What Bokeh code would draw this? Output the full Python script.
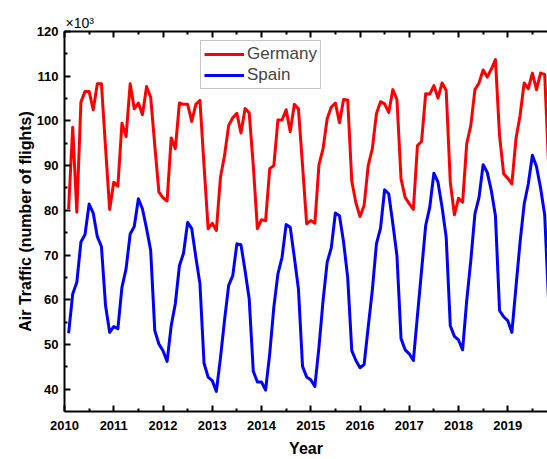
from bokeh.plotting import figure
from bokeh.models import Range1d, LinearAxis, FixedTicker, Legend, LegendItem
from bokeh.embed import file_html
from bokeh.resources import INLINE

# ---- data (monthly air traffic, thousands of flights) ----
months = list(range(1, 119))  # month counter starting Jan 2010
germany = [80.3, 98.6, 79.6, 104.2, 106.6, 106.6, 102.5, 108.3, 108.3, 94.0,
           80.2, 86.3, 85.4, 99.5, 96.5, 108.3, 102.7, 104.0, 101.4, 107.7,
           105.3, 94.5, 84.1, 82.8, 82.1, 96.2, 93.8, 104.0, 103.7, 103.7,
           99.9, 103.7, 104.6, 90.0, 75.9, 77.1, 75.5, 87.4, 92.3, 99.0,
           100.7, 101.7, 97.3, 102.8, 101.8, 90.0, 75.9, 77.9, 77.7, 89.3,
           90.0, 100.2, 100.2, 102.5, 97.6, 103.7, 102.7, 90.0, 77.0, 77.7,
           77.1, 90.2, 93.8, 100.5, 103.1, 104.0, 99.6, 104.8, 104.7, 86.5,
           81.7, 78.6, 81.1, 90.0, 93.8, 101.6, 104.3, 103.8, 101.9, 107.0,
           104.8, 87.0, 82.9, 81.5, 80.2, 94.5, 95.4, 106.1, 106.0, 107.9,
           105.1, 108.5, 106.8, 86.3, 79.0, 82.7, 81.8, 94.9, 99.0, 107.0,
           108.5, 111.4, 109.8, 111.6, 113.7, 96.7, 88.2, 87.2, 85.9, 96.0,
           101.2, 108.5, 107.2, 110.7, 107.0, 110.7, 110.4, 89.0]
spain = [52.5, 61.3, 63.9, 72.9, 74.6, 81.4, 79.4, 74.1, 71.9, 58.7,
         52.7, 54.0, 53.5, 62.8, 66.9, 74.7, 76.4, 82.6, 80.3, 75.9,
         71.0, 53.1, 50.1, 48.6, 46.2, 54.2, 59.1, 67.6, 70.4, 77.3,
         75.9, 69.5, 63.6, 45.8, 42.7, 41.9, 39.5, 47.0, 55.5, 63.2,
         65.4, 72.5, 72.3, 66.5, 60.2, 44.0, 41.6, 41.6, 39.8, 47.9,
         58.3, 65.8, 69.5, 76.8, 76.2, 69.5, 62.4, 45.1, 42.7, 42.1,
         40.6, 49.4, 59.8, 68.4, 71.6, 79.4, 78.8, 72.9, 65.0, 48.6,
         46.4, 44.8, 45.5, 53.9, 62.1, 72.5, 76.0, 84.6, 83.7, 77.0,
         69.9, 51.3, 48.8, 47.9, 46.4, 56.5, 66.5, 76.6, 80.7, 88.3,
         86.3, 80.7, 74.0, 54.2, 51.8, 51.0, 48.8, 59.8, 68.8, 79.2,
         82.9, 90.2, 88.5, 84.4, 78.8, 57.6, 56.2, 55.3, 52.7, 62.8,
         72.9, 81.4, 85.9, 92.3, 89.8, 85.0, 79.0, 58.5]
year_ticks = [2010, 2011, 2012, 2013, 2014, 2015, 2016, 2017, 2018, 2019]
y_ticks = [40, 50, 60, 70, 80, 90, 100, 110, 120]

x = [2010 + m / 12 for m in months]

FONT = "Liberation Sans"

p = figure(width=547, height=459,
           x_range=Range1d(2010, 2019.807), y_range=Range1d(35, 120),
           output_backend="svg", toolbar_location=None,
           min_border_left=64, min_border_right=0, min_border_top=31,
           min_border_bottom=47)
p.outline_line_color = None
p.grid.visible = False
p.border_fill_color = "white"
p.background_fill_color = "white"

# "×10³" multiplier shown above the top-left corner
p.title.text = "×10³"
p.title.align = "left"
p.title.text_font = FONT
p.title.text_font_style = "normal"
p.title.text_font_size = "14px"
p.title.text_color = "black"
p.title.standoff = 2
p.title.offset = 1

r1 = p.line(x, germany, line_color="#FF0000", line_width=3, line_join="round")
r2 = p.line(x, spain, line_color="#0000FF", line_width=3, line_join="round")

x_minor = [t + 0.5 for t in year_ticks]
y_minor = [t + 5 for t in y_ticks[:-1]]


def style_axis(ax):
    ax.axis_line_width = 2
    ax.axis_line_color = "black"
    ax.major_tick_in = 6
    ax.major_tick_out = 0
    ax.minor_tick_in = 3
    ax.minor_tick_out = 0
    ax.major_tick_line_width = 2
    ax.minor_tick_line_width = 2
    ax.major_label_text_font = FONT
    ax.major_label_text_font_style = "bold"
    ax.major_label_text_font_size = "13px"
    ax.major_label_text_color = "black"
    ax.axis_label_text_font = FONT
    ax.axis_label_text_font_style = "bold"
    ax.axis_label_text_font_size = "16px"
    ax.axis_label_text_color = "black"


xa = p.xaxis[0]
xa.ticker = FixedTicker(ticks=year_ticks, minor_ticks=x_minor)
style_axis(xa)
xa.major_label_standoff = 9
xa.axis_label = "Year"
xa.axis_label_standoff = 7

ya = p.yaxis[0]
ya.ticker = FixedTicker(ticks=y_ticks, minor_ticks=y_minor)
style_axis(ya)
ya.major_label_standoff = 6
ya.axis_label = "Air Traffic (number of flights)"
ya.axis_label_standoff = 0

top = LinearAxis(ticker=FixedTicker(ticks=year_ticks, minor_ticks=x_minor))
style_axis(top)
top.major_label_text_color = None
top.major_label_text_font_size = "1px"
top.major_label_standoff = 0
p.add_layout(top, "above")

legend = Legend(items=[LegendItem(label="Germany", renderers=[r1]),
                       LegendItem(label="Spain", renderers=[r2])],
                location=(136, 322), label_text_font=FONT,
                label_text_font_size="17px", glyph_width=40, glyph_height=20,
                label_height=20, label_standoff=3, padding=3, spacing=1,
                border_line_color="#8c8c8c", border_line_width=1,
                background_fill_alpha=1, margin=0)
p.add_layout(legend)

open("out.html", "w").write(file_html(p, INLINE))
